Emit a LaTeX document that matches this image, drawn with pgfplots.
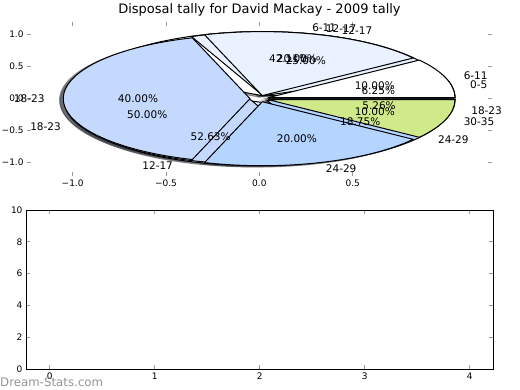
\documentclass[border=0pt]{standalone}
\usepackage{pgfplots}
\pgfplotsset{compat=1.18}
\usepackage{pgfplotstable}
\usepackage{fontspec}
\setmainfont{DejaVu Sans}

\definecolor{piec0}{RGB}{255,255,255}
\definecolor{piec1}{RGB}{234,241,255}
\definecolor{piec2}{RGB}{197,216,253}
\definecolor{piec3}{RGB}{180,213,255}
\definecolor{piec4}{RGB}{208,234,139}

% three pies drawn on top of each other (matplotlib order)
\pgfplotstableread{
label value
6-11 8
12-17 10
18-23 1
}\pieA
\pgfplotstableread{
label value
0-5 1
12-17 4
18-23 8
24-29 3
}\pieB
\pgfplotstableread{
label value
6-11 1
12-17 2
18-23 4
24-29 2
30-35 1
}\pieC

\newcommand\pieXR{186.7pt}
\newcommand\pieYR{64pt}
\newcommand\piefont{\fontsize{10.5}{12}\selectfont}

\newcommand\pietotal[1]{%
  \pgfplotstablegetrowsof{#1}%
  \pgfmathtruncatemacro\pielast{\pgfplotsretval-1}%
  \def\pietot{0}%
  \pgfplotsforeachungrouped \pr in {0,...,\pielast}{%
    \pgfplotstablegetelem{\pr}{value}\of{#1}%
    \pgfmathsetmacro\pietot{\pietot+\pgfplotsretval}%
  }%
}

\newcommand\piedraw[2]{% #1 table, #2 mode: 0 shadow, 1 wedge, 2 text
  \pietotal{#1}%
  \def\piecum{0}%
  \pgfplotsforeachungrouped \pr in {0,...,\pielast}{%
    \pgfplotstablegetelem{\pr}{value}\of{#1}%
    \let\piev\pgfplotsretval
    \pgfmathsetmacro\ta{360*\piecum/\pietot}%
    \pgfmathsetmacro\piecum{\piecum+\piev}%
    \pgfmathsetmacro\tb{360*\piecum/\pietot}%
    \pgfmathsetmacro\tm{(\ta+\tb)/2}%
    \pgfmathsetmacro\ex{0.05*cos(\tm)}%
    \pgfmathsetmacro\ey{0.05*sin(\tm)}%
    \ifcase#2
      \pgfmathsetmacro\sx{\ex-0.02}\pgfmathsetmacro\sy{\ey-0.02}%
      \pgfmathsetmacro\px{\sx+cos(\ta)}\pgfmathsetmacro\py{\sy+sin(\ta)}%
      \path[fill=piec\pr!30!black, fill opacity=0.5, draw=piec\pr!30!black, draw opacity=0.5, line width=1pt]
        (axis cs:\sx,\sy) -- (axis cs:\px,\py)
        arc[start angle=\ta, end angle=\tb, x radius=\pieXR, y radius=\pieYR] -- cycle;
    \or
      \pgfmathsetmacro\px{\ex+cos(\ta)}\pgfmathsetmacro\py{\ey+sin(\ta)}%
      \path[fill=piec\pr, draw=black, line width=1pt, line join=round]
        (axis cs:\ex,\ey) -- (axis cs:\px,\py)
        arc[start angle=\ta, end angle=\tb, x radius=\pieXR, y radius=\pieYR] -- cycle;
    \or
      \pgfplotstablegetelem{\pr}{label}\of{#1}%
      \let\pielab\pgfplotsretval
      \pgfmathsetmacro\lx{\ex+1.1*cos(\tm)}\pgfmathsetmacro\ly{\ey+1.1*sin(\tm)}%
      \pgfmathsetmacro\qx{\ex+0.6*cos(\tm)}\pgfmathsetmacro\qy{\ey+0.6*sin(\tm)}%
      \pgfmathsetmacro\pct{100*\piev/\pietot}%
      \ifdim\lx pt>0pt \def\anc{west}\else\def\anc{east}\fi
      \node[anchor=\anc, inner sep=0pt, font=\piefont] at (axis cs:\lx,\ly) {\pielab};
      \node[inner sep=0pt, font=\piefont] at (axis cs:\qx,\qy)
        {\pgfmathprintnumber[fixed,fixed zerofill,precision=2,assume math mode=true]{\pct}\%};
    \fi
  }%
}

\begin{document}
\begin{tikzpicture}
\useasboundingbox (0,0) rectangle (520pt,390pt);

% ---------- top: pie axes ----------
\begin{axis}[
  at={(27.1pt,214.2pt)}, anchor=south west,
  x=186.7pt, y=64pt,
  xmin=-1.244, xmax=1.244, ymin=-1.205, ymax=1.205,
  clip=false,
  axis line style={draw=none},
  xtick={-1,-0.5,0,0.5}, xticklabels={−1.0,−0.5,0.0,0.5},
  ytick={-1,-0.5,0,0.5,1}, yticklabels={−1.0,−0.5,0.0,0.5,1.0},
  tick align=inside, major tick length=4pt,
  tick style={gray!80, line width=0.6pt},
  tick label style={font=\fontsize{9}{10}\selectfont},
]
\pgfplotsextra{%
  \piedraw\pieA0\piedraw\pieB0\piedraw\pieC0
  \piedraw\pieA1\piedraw\pieB1\piedraw\pieC1
  \piedraw\pieA2\piedraw\pieB2\piedraw\pieC2
}
\end{axis}

% ---------- bottom: empty axes ----------
\begin{axis}[
  at={(26pt,21pt)}, anchor=south west,
  width=467.3pt, height=159pt, scale only axis,
  xmin=-0.225, xmax=4.225, ymin=0, ymax=10,
  xtick={0,1,2,3,4}, ytick={0,2,4,6,8,10},
  tick align=inside, major tick length=4pt,
  tick style={gray!80, line width=0.6pt},
  axis line style={black, line width=0.9pt},
  tick label style={font=\fontsize{9}{10}\selectfont},
  /pgf/number format/assume math mode=true,
]
\end{axis}

\node[anchor=base, font=\fontsize{13}{15}\selectfont] at (259.5pt,376pt)
  {Disposal tally for David Mackay - 2009 tally};
\node[anchor=base west, inner sep=0pt, text=gray!85, font=\fontsize{11.8}{13}\selectfont]
  at (0pt,3pt) {Dream-Stats.com};
\end{tikzpicture}
\end{document}
